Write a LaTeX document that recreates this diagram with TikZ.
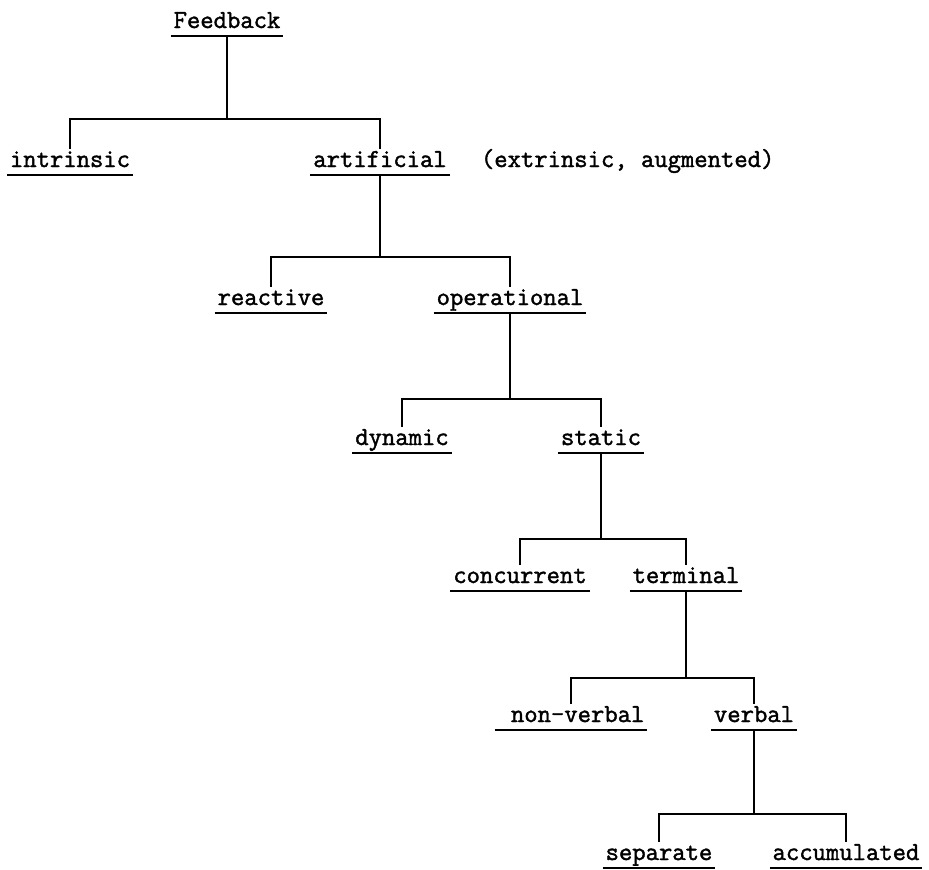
\documentclass[tikz,border=0pt]{standalone}
\usepackage{fontspec}
\newfontfamily\typewriter[FakeBold=1.6]{Latin Modern Mono}

\begin{document}
\begin{tikzpicture}[x=1pt,y=-1pt,line width=1.9pt,
		term node/.style={font=\fontsize{25.9}{30}\selectfont\typewriter,anchor=base,inner xsep=2pt,inner ysep=2pt,
			text height=15pt,text depth=5pt,
			append after command={(\tikzlastnode.south west) edge (\tikzlastnode.south east)}},
		note node/.style={font=\fontsize{25.9}{30}\selectfont\typewriter,anchor=base west,inner sep=0pt}]
		% Rahmen
		\useasboundingbox (0,0) rectangle (929,870);
		
		\node[term node] (feedback) at (227,28) {Feedback};
		\node[term node] (intrinsic) at (70,167) {intrinsic};
		\node[term node] (artificial) at (380,167) {artificial};
		\node[note node] (extrinsic) at (480,167) {(extrinsic, augmented)};
		\node[term node] (reactive) at (271,305) {reactive};
		\node[term node] (operational) at (510,305) {operational};
		\node[term node] (dynamic) at (402,445) {dynamic};
		\node[term node] (static) at (601,445) {static};
		\node[term node] (concurrent) at (520,583) {concurrent};
		\node[term node] (terminal) at (686,583) {terminal};
		\node[term node] (nonverbal) at (571,722) {\ non-verbal};
		\node[term node] (verbal) at (754,722) {verbal};
		\node[term node] (separate) at (659,860) {separate};
		\node[term node] (accumulated) at (846,860) {accumulated};
		
		% Verzweigungen
		\draw (feedback.south) -- ++(0,83) coordinate (j1);
		\draw (intrinsic.north) |- (j1) -| (artificial.north);
		\draw (artificial.south) -- ++(0,82) coordinate (j2);
		\draw (reactive.north) |- (j2) -| (operational.north);
		\draw (operational.south) -- ++(0,86) coordinate (j3);
		\draw (dynamic.north) |- (j3) -| (static.north);
		\draw (static.south) -- ++(0,86) coordinate (j4);
		\draw (concurrent.north) |- (j4) -| (terminal.north);
		\draw (terminal.south) -- ++(0,87) coordinate (j5);
		\draw (nonverbal.north) |- (j5) -| (verbal.north);
		\draw (verbal.south) -- ++(0,84) coordinate (j6);
		\draw (separate.north) |- (j6) -| (accumulated.north);
\end{tikzpicture}
\end{document}
